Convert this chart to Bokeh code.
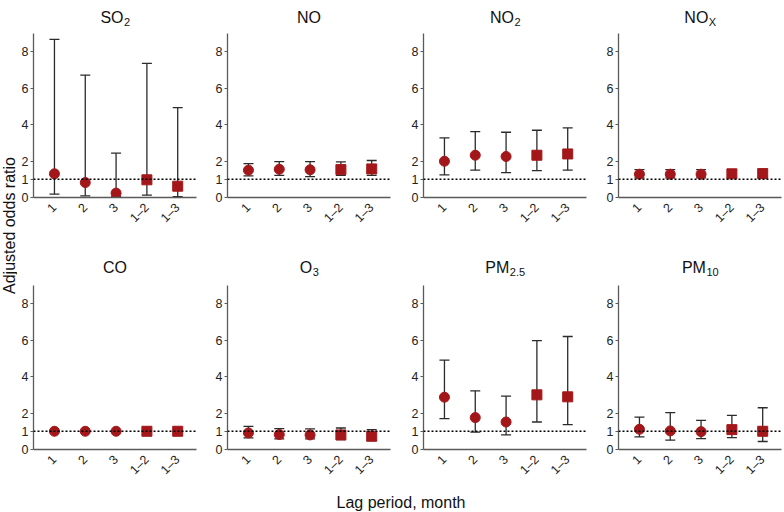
import math
from bokeh.plotting import figure
from bokeh.layouts import row, column
from bokeh.models import Range1d, FixedTicker, Span, Label, ColumnDataSource
from bokeh.embed import file_html
from bokeh.resources import INLINE

# ---------------- data ----------------
lag_labels = ["1", "2", "3", "1\u20132", "1\u20133"]
lag_pos = [1, 2, 3, 4, 5]
lag_marker = ["circle", "circle", "circle", "square", "square"]
y_ticks = [0, 1, 2, 4, 6, 8]
y_max = 9

so2_or = [1.30, 0.82, 0.24, 0.97, 0.62]
so2_lo = [0.18, 0.09, 0.04, 0.13, 0.05]
so2_hi = [8.68, 6.72, 2.43, 7.36, 4.93]

no_or = [1.50, 1.55, 1.52, 1.53, 1.57]
no_lo = [1.19, 1.21, 1.15, 1.21, 1.21]
no_hi = [1.86, 1.97, 1.97, 1.95, 2.03]

no2_or = [1.99, 2.32, 2.25, 2.32, 2.39]
no2_lo = [1.24, 1.50, 1.37, 1.48, 1.50]
no2_hi = [3.27, 3.62, 3.58, 3.69, 3.82]

nox_or = [1.28, 1.28, 1.28, 1.30, 1.31]
nox_lo = [1.08, 1.08, 1.08, 1.10, 1.10]
nox_hi = [1.53, 1.53, 1.53, 1.53, 1.55]

co_or = [1.00, 1.00, 1.00, 1.00, 1.00]
co_lo = [0.98, 0.98, 0.98, 0.98, 0.98]
co_hi = [1.02, 1.02, 1.02, 1.02, 1.02]

o3_or = [0.91, 0.82, 0.80, 0.80, 0.73]
o3_lo = [0.64, 0.58, 0.58, 0.55, 0.49]
o3_hi = [1.27, 1.15, 1.13, 1.18, 1.09]

pm25_or = [2.87, 1.75, 1.51, 3.00, 2.89]
pm25_lo = [1.69, 0.95, 0.80, 1.51, 1.36]
pm25_hi = [4.91, 3.22, 2.93, 5.98, 6.20]

pm10_or = [1.11, 1.02, 0.98, 1.09, 1.00]
pm10_lo = [0.69, 0.51, 0.60, 0.65, 0.44]
pm10_hi = [1.78, 2.02, 1.60, 1.87, 2.29]

titles_main = ["SO", "NO", "NO", "NO", "CO", "O", "PM", "PM"]
titles_sub = ["2", "", "2", "X", "", "3", "2.5", "10"]
series = [
    (so2_or, so2_lo, so2_hi), (no_or, no_lo, no_hi),
    (no2_or, no2_lo, no2_hi), (nox_or, nox_lo, nox_hi),
    (co_or, co_lo, co_hi), (o3_or, o3_lo, o3_hi),
    (pm25_or, pm25_lo, pm25_hi), (pm10_or, pm10_lo, pm10_hi),
]
y_label = "Adjusted odds ratio"
x_label = "Lag period, month"

# ---------------- style ----------------
FONT = "Liberation Sans"
RED = "#A3171A"
BAR = "#2b2b2b"
AXIS = "#5a5a5a"
FW, FH_AXIS = 163, 164      # frame width, height of the 0..9 axis part
TITLE_SPACE = 30            # px of frame kept above the axis for the title
FH = FH_AXIS + TITLE_SPACE
Y_END = y_max * FH / FH_AXIS
TITLE_PX, SUB_PX = 16, 11
LEFTS = [16, 25, 27, 26]
RIGHTS = [6, 6, 6, 3]
TOPS = [33 - TITLE_SPACE, 48 - TITLE_SPACE]
BOTTOMS = [40, 38]
# approximate Arial advance widths (em) for centring the subscripted titles
CW = {"S": .667, "O": .778, "N": .722, "P": .667, "M": .833, "C": .722,
      "X": .667, ".": .278, "0": .556, "1": .556, "2": .556, "3": .556, "5": .556}


def text_w(s, px):
    return sum(CW.get(c, .556) for c in s) * px


def make_panel(i):
    col, r = i % 4, i // 4
    left, right, top, bottom = LEFTS[col], RIGHTS[col], TOPS[r], BOTTOMS[r]
    p = figure(width=left + FW + right, height=top + FH + bottom,
               x_range=Range1d(0.32, 5.61), y_range=Range1d(0, Y_END),
               output_backend="svg", toolbar_location=None, title=None,
               min_border_left=left, min_border_right=right,
               min_border_top=top, min_border_bottom=bottom)
    p.outline_line_color = None
    p.grid.visible = False
    p.background_fill_color = "white"
    p.border_fill_color = "white"

    orr, lo, hi = series[i]
    src = ColumnDataSource(dict(x=lag_pos, y=orr, lo=lo, hi=hi, m=lag_marker))

    p.add_layout(Span(location=1, dimension="width", line_color="black",
                      line_width=1.5, line_dash="2 2"))
    p.segment(x0="x", y0="lo", x1="x", y1="hi", source=src,
              line_color=BAR, line_width=1.3)
    p.scatter(x="x", y="hi", source=src, marker="dash", size=10,
              line_color=BAR, line_width=1.3)
    p.scatter(x="x", y="lo", source=src, marker="dash", size=10,
              line_color=BAR, line_width=1.3)
    p.scatter(x="x", y="y", source=src, marker="m", size=10,
              fill_color=RED, line_color=RED)

    # axes
    for ax in (p.xaxis[0], p.yaxis[0]):
        ax.axis_line_color = AXIS
        ax.axis_line_width = 1.3
        ax.major_label_text_font = FONT
        ax.major_label_text_font_size = "12.5px"
        ax.major_label_text_color = "#222222"
        ax.minor_tick_line_color = None
    p.yaxis.ticker = FixedTicker(ticks=y_ticks)
    p.yaxis.bounds = (0, y_max)
    p.yaxis.major_tick_out = 3
    p.yaxis.major_tick_in = 0
    p.yaxis.major_tick_line_color = AXIS
    p.yaxis.major_label_standoff = 2
    p.xaxis.ticker = FixedTicker(ticks=lag_pos)
    p.xaxis.major_label_overrides = {k: v for k, v in zip(lag_pos, lag_labels)}
    p.xaxis.major_tick_out = 0
    p.xaxis.major_tick_in = 0
    p.xaxis.major_label_orientation = math.pi / 4
    p.xaxis.major_label_standoff = 8

    # title with subscript, inside the frame above the axis top
    main, sub = titles_main[i], titles_sub[i]
    wm, ws = text_w(main, TITLE_PX), text_w(sub, SUB_PX)
    off = (wm - ws) / 2
    xmid = (p.x_range.start + p.x_range.end) / 2
    ym = 16 if r == 0 else 18
    p.add_layout(Label(x=xmid, y=y_max, x_offset=off, y_offset=ym, text=main,
                       text_align="right", text_baseline="alphabetic",
                       text_font=FONT, text_font_size=f"{TITLE_PX}px",
                       text_color="#111111"))
    if sub:
        p.add_layout(Label(x=xmid, y=y_max, x_offset=off + 0.5,
                           y_offset=ym - 4, text=sub, text_align="left",
                           text_baseline="alphabetic", text_font=FONT,
                           text_font_size=f"{SUB_PX}px", text_color="#111111"))
    return p


panels = [make_panel(i) for i in range(8)]

TOTAL_H = sum(pp.height for pp in (panels[0], panels[4])) + 25
ylab = figure(width=17, height=TOTAL_H, x_range=Range1d(0, 1),
              y_range=Range1d(0, TOTAL_H), output_backend="svg",
              toolbar_location=None, title=None, min_border=0,
              x_axis_location=None, y_axis_location=None)
ylab.outline_line_color = None
ylab.grid.visible = False
ylab.add_layout(Label(x=0.5, y=TOTAL_H - 225, angle=math.pi / 2, text=y_label,
                      text_align="center", text_baseline="middle",
                      text_font=FONT, text_font_size="16px",
                      text_color="#111111"))

xw = sum(pp.width for pp in panels[:4])
xlab = figure(width=xw, height=25, x_range=Range1d(0, 1), y_range=Range1d(0, 1),
              output_backend="svg", toolbar_location=None, title=None,
              min_border=0, x_axis_location=None, y_axis_location=None)
xlab.outline_line_color = None
xlab.grid.visible = False
xlab.add_layout(Label(x=0.5, y=0.4, text=x_label, text_align="center",
                      text_baseline="middle", text_font=FONT,
                      text_font_size="16px", text_color="#111111"))

layout = row(ylab, column(row(*panels[:4]), row(*panels[4:]), xlab))

open("out.html", "w").write(file_html(layout, INLINE))
